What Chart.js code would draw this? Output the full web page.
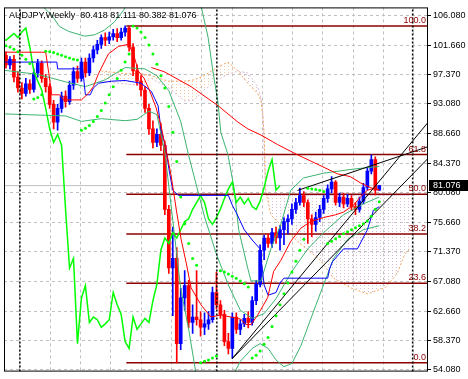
<!DOCTYPE html>
<html>
<head>
<meta charset="utf-8">
<script src="https://cdn.jsdelivr.net/npm/chart.js@4.4.1/dist/chart.umd.min.js"></script>
<style>
  html, body { margin: 0; padding: 0; background: #fff; }
</style>
</head>
<body>
<canvas id="myChart" width="468" height="379"></canvas>
<script>
// ---------------- data ----------------

const title = "AUDJPY,Weekly  80.418 81.111 80.382 81.076";

// weekly candles, bar 0 .. 94
const opens = [100.2, 98.8, 99.6, 97.0, 95.4, 94.6, 96.0, 95.2, 97.6, 99.0,
  96.8, 95.6, 93.0, 90.4, 92.4, 94.2, 93.4, 95.8, 97.8, 96.8,
  99.2, 97.6, 99.8, 101.0, 101.8, 102.8, 102.4, 102.9, 103.4, 102.8,
  103.6, 104.2, 101.4, 97.9, 96.4, 95.1, 92.4, 89.4, 87.4, 88.6,
  87.0, 77.6, 69.0, 70.4, 57.9, 64.6, 66.4, 61.0, 61.8, 61.4,
  60.3, 60.8, 61.4, 65.4, 63.6, 62.2, 58.2, 57.2, 61.8, 60.0,
  60.8, 61.6, 61.0, 64.2, 66.6, 71.6, 73.4, 72.6, 74.2, 73.4,
  74.6, 75.8, 76.2, 77.6, 78.6, 79.6, 78.6, 76.2, 75.4, 76.4,
  77.6, 79.2, 80.6, 81.6, 78.6, 79.4, 78.4, 79.2, 78.0, 77.6,
  78.8, 80.8, 83.2, 84.9, 80.418];
const highs = [100.7, 100.0, 100.2, 97.8, 96.2, 96.8, 96.6, 98.2, 99.6, 99.4,
  97.4, 96.0, 93.6, 93.0, 94.8, 95.0, 96.4, 98.4, 98.6, 99.8,
  99.8, 100.4, 101.6, 102.4, 103.2, 103.5, 103.6, 104.0, 104.1, 104.2,
  104.51, 104.4, 101.9, 98.8, 97.2, 95.6, 93.0, 90.6, 89.4, 90.2,
  87.6, 78.2, 75.0, 72.0, 66.0, 68.6, 67.2, 63.6, 68.6, 62.6,
  62.4, 62.6, 66.2, 68.4, 64.2, 62.8, 59.4, 62.4, 62.4, 61.4,
  62.2, 62.6, 64.8, 67.2, 72.4, 73.8, 74.0, 74.8, 75.0, 75.2,
  76.4, 76.8, 78.4, 79.2, 80.7, 80.2, 79.0, 76.8, 77.2, 78.2,
  79.6, 81.2, 82.4, 81.8, 80.0, 80.0, 79.8, 79.6, 78.6, 79.4,
  81.4, 83.8, 85.6, 85.3, 81.111];
const lows = [98.3, 98.2, 96.3, 94.8, 93.8, 94.2, 94.6, 94.8, 97.0, 96.2,
  94.8, 92.4, 89.4, 89.2, 91.8, 92.6, 93.0, 95.2, 96.2, 96.4,
  97.0, 97.2, 99.2, 100.4, 101.2, 101.6, 101.9, 102.4, 102.2, 102.4,
  103.0, 100.8, 97.2, 95.8, 94.2, 91.8, 88.6, 86.6, 86.8, 86.2,
  76.8, 68.2, 62.0, 55.08, 57.0, 62.8, 60.2, 59.4, 60.6, 59.0,
  59.2, 60.0, 61.0, 63.0, 61.6, 57.6, 56.4, 55.8, 59.4, 59.2,
  60.4, 60.2, 60.6, 63.6, 66.2, 70.2, 72.0, 72.0, 72.6, 71.6,
  72.4, 74.0, 75.4, 77.0, 78.2, 78.0, 72.6, 73.6, 74.4, 75.8,
  77.0, 78.6, 80.0, 78.2, 78.0, 77.8, 78.0, 77.4, 76.8, 77.2,
  78.4, 80.4, 82.8, 79.7, 80.382];
const closes = [98.8, 99.6, 97.0, 95.4, 94.6, 96.0, 95.2, 97.6, 99.0, 96.8,
  95.6, 93.0, 90.4, 92.4, 94.2, 93.4, 95.8, 97.8, 96.8, 99.2,
  97.6, 99.8, 101.0, 101.8, 102.8, 102.4, 102.9, 103.4, 102.8, 103.6,
  104.2, 101.4, 97.9, 96.4, 95.1, 92.4, 89.4, 87.4, 88.6, 87.0,
  77.6, 69.0, 70.4, 57.9, 64.6, 66.4, 61.0, 61.8, 61.4, 60.3,
  60.8, 61.4, 65.4, 63.6, 62.2, 58.2, 57.2, 61.8, 60.0, 60.8,
  61.6, 61.0, 64.2, 66.6, 71.6, 73.4, 72.6, 74.2, 73.4, 74.6,
  75.8, 76.2, 77.6, 78.6, 79.6, 78.6, 76.2, 75.4, 76.4, 77.6,
  79.2, 80.6, 81.6, 78.6, 79.4, 78.4, 79.2, 78.0, 77.6, 78.8,
  80.8, 83.2, 84.9, 80.4, 81.076];

// indicator lines, [bar, price]
const tenkan = [[-0.5, 100.65], [9, 100.65], [10, 100.65], [10.8, 97.5], [11.5, 94.4], [13.5, 94.4],
  [14.5, 93.65], [19, 93.65], [20.8, 94.65], [22, 95.6], [23.3, 97.5], [25.8, 100.4], [28.3, 101.5],
  [30.8, 101.8], [32.1, 100.4], [33.3, 97.9], [34.8, 96.8], [36.1, 95.1], [37.8, 92.5], [39.1, 89.7],
  [40.4, 86.1], [41.6, 82.5], [42.9, 77.5], [44.1, 73.2], [45.4, 69.7], [46.6, 66.1], [49.1, 63.6],
  [51.6, 61.8], [54.1, 62.1], [56.6, 61.8], [59.1, 61.5], [60.4, 60.7], [61.7, 60.7], [63.4, 62.1],
  [65.9, 64.65], [67.4, 68.5], [69.2, 70.1], [71.7, 72.9], [74.2, 74.8], [76.7, 75.8], [80, 76.4],
  [83, 76.8], [85, 77.2], [87.5, 78.2], [89.2, 79.4], [91, 80.4], [92.5, 80.65], [94, 80.5]];
const kijun = [[-0.5, 99.2], [12.8, 99.2], [13, 98.2], [19.3, 98.2], [20, 94.4], [21.2, 94.4], [22, 95.4],
  [23.3, 96.1], [26.6, 96.4], [30, 96.5], [34, 96.1], [36.6, 94.9], [38.3, 92.8], [39, 89.4], [40.3, 86.5],
  [41, 83.6], [42, 80.4], [43.4, 79.65], [56, 79.65], [57, 78.2], [58, 77.1], [60, 74.6], [62, 73.1],
  [64, 71.8], [65, 66.5], [66, 65.0], [68, 65.4], [69, 66.8], [70, 67.5], [81, 67.5], [81.5, 68.9],
  [82.2, 69.9], [85, 71.8], [88.5, 71.8], [91, 74.6], [92.5, 77.4], [94, 78.0]];
const maSlow = [[36.6, 98.4], [39.8, 97.8], [46.6, 95.6], [53.4, 92.8], [58.4, 90.4], [60.9, 89.4],
  [64.2, 88.5], [68.4, 87.1], [73.4, 85.6], [76.7, 84.7], [83.5, 82.8], [86.7, 82.4], [89.2, 81.5],
  [91.7, 80.8], [94, 80.4]];
const bbUpper = [[-0.5, 108.5], [9, 107.5], [11.5, 106.1], [13.5, 104.4], [15.8, 103.7], [19.8, 103.0],
  [22.3, 103.2], [24.8, 103.9], [27.3, 105.1], [29.6, 106.8], [31, 108.2], [35, 112], [42, 118],
  [47, 113], [49.1, 107.5], [50.9, 102.8], [52.1, 97.9], [53.4, 93.2], [54.1, 88.9], [55.9, 85.6],
  [57.4, 80.8], [58.6, 74.6], [60.9, 68.9], [61.7, 67.1], [64.2, 67.1], [66.7, 71.8], [69.2, 75.4],
  [71.7, 80.4], [74.9, 82.2], [80, 82.9], [87.5, 83.5], [94, 83.9]];
const bbMiddle = [[-0.5, 98.0], [8, 97.4], [15, 96.3], [20, 95.6], [25, 96.6], [30, 98.4], [35, 98.2],
  [38, 97.2], [41, 95.0], [44, 90.5], [46, 85.5], [48, 81.0], [50, 76.5], [53, 71.0], [56, 66.5],
  [59, 62.8], [62, 61.6], [65, 62.3], [68, 64.5], [72, 68.5], [76, 71.8], [80, 74.2], [85, 76.8],
  [90, 78.4], [94, 79.4]];
const bbLower = [[-0.5, 91.6], [15, 91.3], [19, 90.5], [24, 90.9], [30, 90.6], [33, 90.8], [36, 92.0],
  [38, 91.5], [40, 86], [42, 76], [44, 66], [46, 60], [48, 53], [52, 48], [57, 53.0], [59, 55.3],
  [62, 57.2], [64, 57.9], [66, 57.2], [68, 55.5], [70, 54.5], [72, 55.0], [74.2, 57.5], [78, 63.5],
  [82.5, 70.4], [86, 73.2], [90, 74.6], [94, 75.2]];
const sar = [[0, 101.6], [1, 101.4], [2, 101.1], [3, 100.7], [4, 100.2], [5, 99.6], [6, 99.0],
  [7, 93.8], [8, 94.0], [9, 94.4],
  [10, 100.8], [11, 100.7], [12, 100.6], [13, 100.4], [14, 100.2], [15, 100.0], [16, 99.8], [17, 99.6], [18, 99.5],
  [19, 89.2], [20, 89.5], [21, 89.9], [22, 90.5], [23, 91.2], [24, 92.1], [25, 93.2], [26, 94.4], [27, 95.6],
  [28, 96.8], [29, 98.0], [30, 99.2], [31, 100.4],
  [32, 104.5], [33, 104.2], [34, 103.6], [35, 102.8], [36, 101.7], [37, 100.4], [38, 98.9], [39, 97.2],
  [40, 95.4], [41, 92.7], [42, 88.9], [43, 84.6], [44, 79.4], [45, 75.5], [46, 72.6], [47, 70.4], [48, 69.4],
  [49, 55.1], [50, 55.3], [51, 55.5], [52, 55.8], [53, 56.1],
  [54, 68.6], [55, 68.4], [56, 68.1], [57, 67.8], [58, 67.5], [59, 67.1], [60, 66.7], [61, 66.2],
  [62, 55.8], [63, 56.2], [64, 56.8], [65, 57.8], [66, 58.8], [67, 60.4], [68, 62.0], [69, 63.6], [70, 65.2],
  [71, 66.8], [72, 68.4], [73, 70.0], [74, 71.6], [75, 73.2],
  [76, 80.7], [77, 80.6], [78, 80.5], [79, 80.4], [80, 80.2],
  [81, 72.6], [82, 72.9], [83, 73.3], [84, 73.6], [85, 74.0], [86, 74.3], [87, 74.6], [88, 74.9], [89, 75.2],
  [90, 75.5], [91, 75.9], [92, 76.6], [93, 77.6], [94, 78.7]];

// ichimoku cloud
const cloudBars = [24, 30, 34, 36.6, 40.9, 44.9, 47.4, 49.9, 53.4, 55.9, 58.4, 60.9, 63.4, 64.2, 64.7, 65.0,
  65.4, 66.7, 69.9, 74.2, 79.2, 82.5, 86.7, 91, 95.5, 98.5, 100.5, 101.8];
const spanA = [97.9, 97.5, 97.5, 97.2, 96.4, 96.4, 96.6, 97.2, 98.5, 99.2, 97.9, 96.1, 94.6, 93.6, 91.0, 88.9,
  80.4, 76.8, 74.9, 72.5, 70.1, 67.5, 66.1, 65.2, 66.1, 68.2, 71.1, 71.8];
const spanB = [96.4, 96.0, 95.8, 96.8, 95.4, 93.5, 93.6, 95.1, 96.6, 97.4, 97.9, 97.6, 95.6, 94.0, 91.8, 86.0,
  79.65, 79.65, 79.65, 79.65, 79.65, 79.65, 79.65, 79.65, 79.65, 79.65, 79.65, 79.65];
const CHIKOU_SHIFT = 25;

// fibonacci retracement, high at bar 30, low at bar 43
const fibLevels = [0, 23.6, 38.2, 50, 61.8, 100];
const fibHigh = 104.51, fibLow = 55.08, fibStart = 30.3;

// trend lines [bar1, price1, bar2, price2]
const trendLines = [[56.9, 55.65, 106.3, 90.37], [56.9, 55.65, 106.3, 85.08], [73.4, 80.37, 106.3, 86.79]];

// year separators and grid
const separators = [3.5, 53.1, 102.4];
const gridBars = [7.3, 14.9, 22.6, 30.2, 37.9, 45.5, 53.1, 60.8, 68.4, 76.0, 83.6, 91.3, 98.9];
const yTicks = [106.08, 101.66, 97.37, 93.08, 88.66, 84.37, 80.08, 75.66, 71.37, 67.08, 62.66, 58.37, 54.08];

const Y_MIN = 53.794, Y_MAX = 107.223;
const X_MIN = -0.5, X_MAX = 106.27;

// ---------------- chart ----------------

const UP = '#0000ff', DOWN = '#ff0000';
const FIB_COLOR = '#8b0000';
const BAND = '#3cb371';
const FONT = '"Liberation Sans", Arial, sans-serif';

const pts = arr => arr.map(p => ({ x: p[0], y: p[1] }));
const candleColor = closes.map((c, i) => c >= opens[i] ? UP : DOWN);

// dotted vertical hatch like the terminal draws for the cloud
function hatch(color) {
  const c = document.createElement('canvas');
  c.width = 4; c.height = 3;
  const g = c.getContext('2d');
  g.fillStyle = color;
  g.fillRect(0, 0, 1, 1);
  return g.createPattern(c, 'repeat');
}

const lineSet = (label, data, color, extra) => Object.assign({
  type: 'line', label, data, borderColor: color, backgroundColor: color,
  borderWidth: 1, pointRadius: 0, tension: 0, fill: false, order: 2
}, extra || {});

const datasets = [];

// cloud
datasets.push(lineSet('Senkou A', cloudBars.map((b, i) => ({ x: b, y: spanA[i] })), '#f4a460',
  { borderDash: [2, 2], order: 9 }));
datasets.push(lineSet('Senkou B', cloudBars.map((b, i) => ({ x: b, y: spanB[i] })), '#d8bfd8',
  { borderDash: [2, 2], order: 9,
    fill: { target: '-1', above: hatch('#d8b8d8'), below: hatch('#f7c9a0') } }));

// fibo lines
fibLevels.forEach(l => {
  const v = fibLow + (fibHigh - fibLow) * l / 100;
  datasets.push(lineSet('fib ' + l, [{ x: fibStart, y: v }, { x: X_MAX, y: v }], FIB_COLOR,
    { borderWidth: 1.5, order: 8 }));
});

// bid line
datasets.push(lineSet('bid', [{ x: X_MIN, y: closes[closes.length - 1] }, { x: X_MAX, y: closes[closes.length - 1] }],
  '#c0c0c0', { order: 8 }));

// candles
datasets.push({
  type: 'bar', label: 'wick',
  data: closes.map((c, i) => ({ x: i, y: [lows[i], highs[i]] })),
  backgroundColor: candleColor, borderWidth: 0, barThickness: 1, grouped: false, order: 6
});
datasets.push({
  type: 'bar', label: 'body',
  data: closes.map((c, i) => ({ x: i, y: [opens[i], c] })),
  backgroundColor: candleColor, borderWidth: 0, barThickness: 3, grouped: false, order: 5
});

// bands and averages
datasets.push(lineSet('BB upper', pts(bbUpper), BAND, { order: 3 }));
datasets.push(lineSet('BB middle', pts(bbMiddle), BAND, { order: 3 }));
datasets.push(lineSet('BB lower', pts(bbLower), BAND, { order: 3 }));
datasets.push(lineSet('MA', pts(maSlow), '#ff0000'));
datasets.push(lineSet('Tenkan', pts(tenkan), '#ff0000'));
datasets.push(lineSet('Kijun', pts(kijun), '#0000ff'));
datasets.push(lineSet('Chikou', closes.map((c, i) => ({ x: i - CHIKOU_SHIFT, y: c })), '#00ff00',
  { borderWidth: 1.5 }));

// parabolic SAR
datasets.push(lineSet('SAR', pts(sar), '#00ff00',
  { showLine: false, pointRadius: 1.5, pointBorderWidth: 0, pointBackgroundColor: '#00ff00', order: 1 }));

// trend lines
trendLines.forEach((t, k) => {
  datasets.push(lineSet('trend ' + k, [{ x: t[0], y: t[1] }, { x: t[2], y: t[3] }], '#000000', { order: 1 }));
});

// separators
separators.forEach((s, k) => {
  datasets.push(lineSet('sep ' + k, [{ x: s, y: Y_MIN }, { x: s, y: Y_MAX }], '#000000',
    { borderDash: [2, 2], borderWidth: 1.5, order: 1 }));
});

const overlay = {
  id: 'overlay',
  afterDatasetsDraw(chart) {
    const { ctx, chartArea: a, scales: { y } } = chart;
    ctx.save();
    ctx.font = '9px ' + FONT;
    ctx.fillStyle = FIB_COLOR;
    ctx.textAlign = 'right';
    ctx.textBaseline = 'alphabetic';
    fibLevels.forEach(l => {
      const py = y.getPixelForValue(fibLow + (fibHigh - fibLow) * l / 100);
      ctx.fillText(l.toFixed(1), a.right - 2, py - 3);
    });
    ctx.restore();
  },
  afterDraw(chart) {
    const { ctx, chartArea: a, scales: { y } } = chart;
    ctx.save();
    ctx.strokeStyle = '#000';
    ctx.lineWidth = 1;
    ctx.strokeRect(a.left + 0.5, a.top + 0.5, a.right - a.left - 1, a.bottom - a.top - 1);

    ctx.fillStyle = '#000';
    ctx.font = '9px ' + FONT;
    ctx.textAlign = 'left';
    ctx.textBaseline = 'middle';
    ctx.fillText(title, a.left + 5, a.top + 8);

    const last = closes[closes.length - 1];
    const py = Math.round(y.getPixelForValue(last));
    ctx.fillStyle = '#000';
    ctx.fillRect(a.right + 1, py - 6, chart.width - a.right - 1, 11);
    ctx.fillStyle = '#fff';
    ctx.fillText(last.toFixed(3), a.right + 5, py);
    ctx.restore();
  }
};

new Chart(document.getElementById('myChart'), {
  type: 'bar',
  data: { datasets },
  options: {
    responsive: false,
    animation: false,
    events: [],
    layout: { padding: { left: 2, top: 2, right: 0, bottom: 3 } },
    plugins: { legend: { display: false }, tooltip: { enabled: false } },
    scales: {
      x: {
        type: 'linear', min: X_MIN, max: X_MAX, offset: false,
        afterBuildTicks: s => { s.ticks = gridBars.map(v => ({ value: v })); },
        afterFit: s => { s.height = 0; },
        ticks: { display: false },
        grid: { color: '#c0c0c0', drawTicks: false },
        border: { display: false, dash: [3, 3] }
      },
      y: {
        position: 'right', min: Y_MIN, max: Y_MAX,
        afterBuildTicks: s => { s.ticks = yTicks.map(v => ({ value: v })); },
        afterFit: s => { s.width = 40; },
        ticks: {
          color: '#000', padding: 2, autoSkip: false,
          font: { family: FONT, size: 9 },
          callback: v => Number(v).toFixed(3)
        },
        grid: { color: '#c0c0c0', tickColor: '#000', tickLength: 3, tickBorderDash: [] },
        border: { display: false, dash: [3, 3] }
      }
    }
  },
  plugins: [overlay]
});
</script>
</body>
</html>
